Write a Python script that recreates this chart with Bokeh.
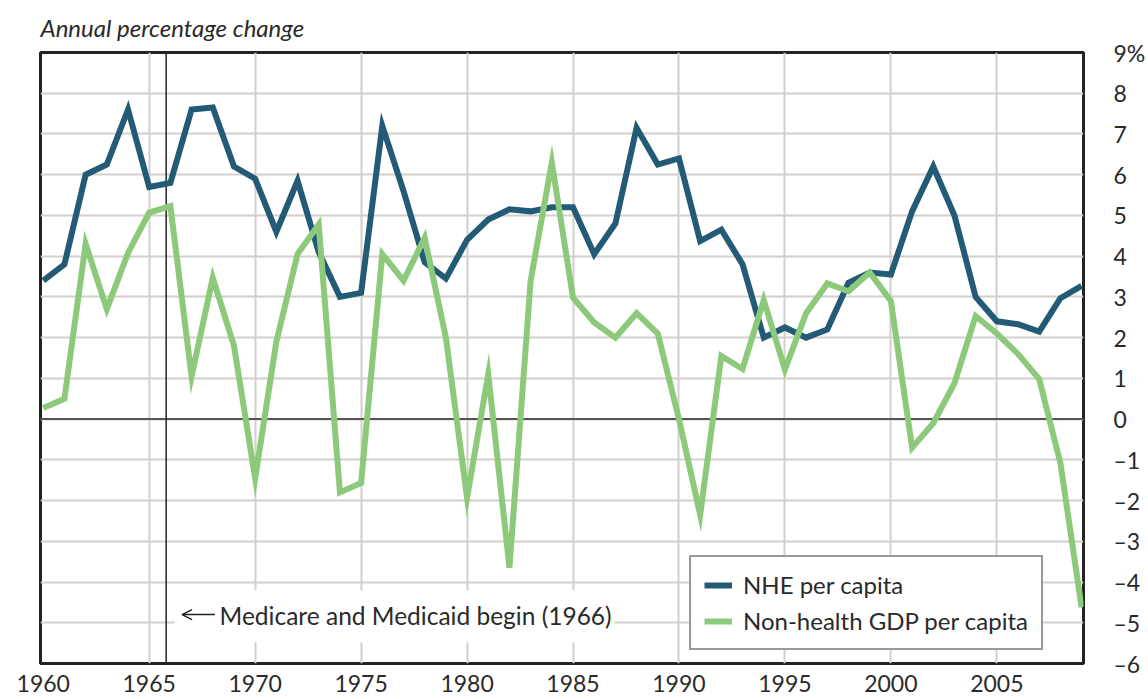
from bokeh.plotting import figure
from bokeh.models import (ColumnDataSource, FixedTicker, Span, Label, Arrow,
                          OpenHead, BoxAnnotation, Range1d)
from bokeh.embed import file_html
from bokeh.resources import INLINE

# ---------------- data ----------------
years = list(range(1960, 2010))

nhe_per_capita = [3.4, 3.8, 6.0, 6.25, 7.6, 5.7, 5.8, 7.6, 7.65, 6.2,
                  5.9, 4.6, 5.85, 4.1, 3.0, 3.1, 7.2, 5.6, 3.85, 3.45,
                  4.4, 4.9, 5.15, 5.1, 5.2, 5.2, 4.05, 4.8, 7.15, 6.25,
                  6.4, 4.37, 4.65, 3.8, 2.0, 2.25, 2.0, 2.2, 3.35, 3.6,
                  3.55, 5.1, 6.2, 5.0, 3.0, 2.4, 2.33, 2.15, 2.97, 3.27]

nonhealth_gdp_per_capita = [0.27, 0.5, 4.3, 2.7, 4.08, 5.07, 5.23, 1.05, 3.47, 1.8,
                            -1.45, 1.9, 4.05, 4.78, -1.8, -1.57, 4.05, 3.4, 4.45, 2.0,
                            -1.93, 1.1, -3.65, 3.4, 6.3, 2.98, 2.37, 2.0, 2.6, 2.1,
                            0.0, -2.35, 1.55, 1.23, 2.92, 1.22, 2.6, 3.33, 3.14, 3.6,
                            2.9, -0.7, -0.1, 0.88, 2.53, 2.1, 1.6, 0.98, -1.08, -4.62]

series_names = ["NHE per capita", "Non-health GDP per capita"]
x_ticks = [1960, 1965, 1970, 1975, 1980, 1985, 1990, 1995, 2000, 2005]
y_ticks = list(range(-6, 10))
y_tick_labels = {v: ("9%" if v == 9 else ("\u2013%d" % -v if v < 0 else str(v))) for v in y_ticks}
title_text = "Annual percentage change"
annotation_text = "Medicare and Medicaid begin (1966)"
medicare_year = 1966

# ---------------- style ----------------
FONT = "Lato"
TEXT_COLOR = "#2a2a2a"
BLUE = "#235b77"
GREEN = "#8dc97b"
GRID = "#d3cfcc"

source = ColumnDataSource(dict(year=years, nhe=nhe_per_capita, gdp=nonhealth_gdp_per_capita))

p = figure(width=1148, height=699, output_backend="svg", toolbar_location=None,
           x_range=Range1d(1959.87, 2009.09), y_range=Range1d(-6, 9),
           y_axis_location="right",
           min_border_left=40, min_border_right=60, min_border_top=52, min_border_bottom=36)
p.background_fill_color = "white"
p.border_fill_color = "white"
p.outline_line_color = "#222222"
p.outline_line_width = 3

# title
p.title.text = title_text
p.title.align = "left"
p.title.text_font = FONT
p.title.text_font_style = "italic"
p.title.text_font_size = "24px"
p.title.text_color = TEXT_COLOR
p.title.standoff = 21

# grids
p.xgrid.ticker = FixedTicker(ticks=x_ticks[1:])
p.ygrid.ticker = FixedTicker(ticks=y_ticks)
p.grid.grid_line_color = GRID
p.grid.grid_line_width = 2

# axes
for ax in (p.xaxis[0], p.yaxis[0]):
    ax.axis_line_color = None
    ax.major_tick_line_color = None
    ax.minor_tick_line_color = None
    ax.major_label_text_font = FONT
    ax.major_label_text_font_size = "23px"
    ax.major_label_text_color = TEXT_COLOR
p.xaxis.ticker = FixedTicker(ticks=x_ticks)
p.xaxis.major_label_overrides = {y: str(y) for y in x_ticks}
p.xaxis.major_label_standoff = 5
p.yaxis.ticker = FixedTicker(ticks=y_ticks)
p.yaxis.major_label_overrides = y_tick_labels
p.yaxis.major_label_standoff = 24

# zero line and Medicare line
p.add_layout(Span(location=0, dimension="width", line_color="#555555",
                  line_width=2, level="underlay"))
p.add_layout(Span(location=medicare_year - 0.2, dimension="height", line_color="#222222",
                  line_width=1.5, level="underlay"))

# series
p.line("year", "nhe", source=source, line_color=BLUE, line_width=6,
       line_join="miter", legend_label=series_names[0])
p.line("year", "gdp", source=source, line_color=GREEN, line_width=6,
       line_join="miter", legend_label=series_names[1])

# annotation (white box, arrow, text)
p.add_layout(BoxAnnotation(left=1966.2, right=1986.96, bottom=-5.48, top=-4.2,
                           fill_color="white", fill_alpha=1, line_alpha=0))
p.add_layout(Arrow(end=OpenHead(size=10, line_color="#222222", line_width=1.5),
                   x_start=1968.1, y_start=-4.8, x_end=1966.55, y_end=-4.8,
                   line_color="#222222", line_width=1.5))
p.add_layout(Label(x=1968.32, y=-4.82, text=annotation_text, text_font=FONT,
                   text_font_size="24.5px", text_color=TEXT_COLOR,
                   text_align="left", text_baseline="middle"))

# legend
lg = p.legend[0]
lg.location = (649, 13)
lg.label_text_font = FONT
lg.label_text_font_size = "24px"
lg.label_text_color = TEXT_COLOR
lg.glyph_width = 28
lg.glyph_height = 26
lg.label_height = 26
lg.label_standoff = 11
lg.padding = 13
lg.spacing = 7
lg.margin = 0
lg.border_line_color = "#333333"
lg.border_line_width = 2
lg.background_fill_color = "white"
lg.background_fill_alpha = 1

open("out.html", "w").write(file_html(p, INLINE))
